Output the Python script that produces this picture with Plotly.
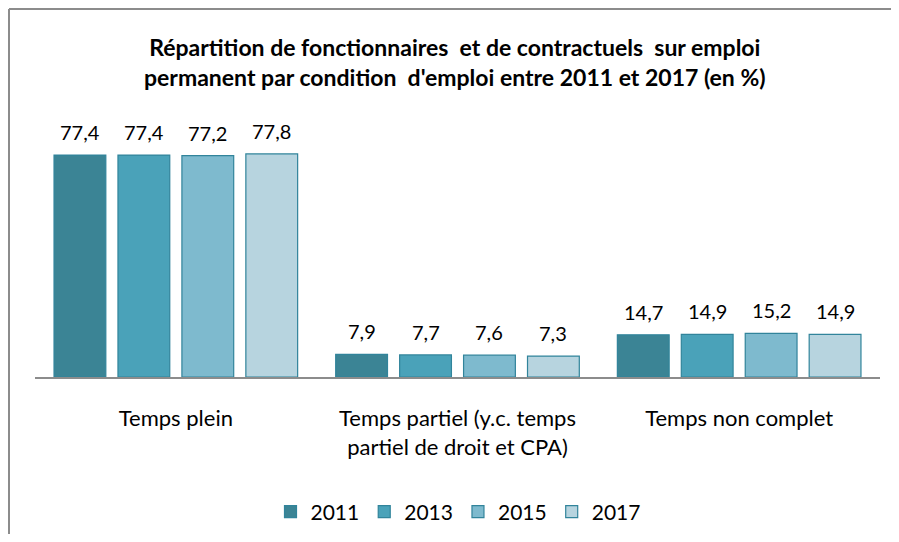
import plotly.graph_objects as go

categories = ["Temps plein", "Temps partiel (y.c. temps<br>partiel de droit et CPA)", "Temps non complet"]
years = ["2011", "2013", "2015", "2017"]
v2011 = [77.4, 7.9, 14.7]
v2013 = [77.4, 7.7, 14.9]
v2015 = [77.2, 7.6, 15.2]
v2017 = [77.8, 7.3, 14.9]
series = [v2011, v2013, v2015, v2017]
colors = ["#3B8495", "#4AA2B9", "#7EBACE", "#B7D4DF"]

FONT = "Lato, 'Open Sans', sans-serif"
OFF = 8  # page body margin
W, H = 899 - 2 * OFF, 542 - 2 * OFF
AXIS_Y = 377 - OFF
L, R = 35 - OFF, W - (880 - OFF)
YMAX = 90.0
PX_PER_UNIT = 223 / 77.8
ph = round(YMAX * PX_PER_UNIT)
B = H - AXIS_Y
T = H - B - ph
pw = W - L - R

BARGAP = 0.092
GROUPGAP = 0.19
band = pw / len(categories)
slot = band * (1 - BARGAP) / len(years)

fig = go.Figure()
for i, (name, vals, col) in enumerate(zip(years, series, colors)):
    fig.add_trace(go.Bar(
        x=categories, y=vals, name=name,
        marker=dict(color=col, line=dict(color="#31849B", width=1.2)),
    ))
    for c, v in zip(categories, vals):
        fig.add_annotation(
            x=c, y=v, xref="x", yref="y",
            text=f"{v:.1f}".replace(".", ","),
            showarrow=False, xanchor="center", yanchor="middle",
            xshift=(i - 1.5) * slot, yshift=23,
            font=dict(family=FONT, size=20, color="#000000"),
        )

fig.update_layout(
    width=W, height=H,
    margin=dict(l=L, r=R, t=T, b=B, autoexpand=False),
    paper_bgcolor="white", plot_bgcolor="white",
    barmode="group", bargap=BARGAP, bargroupgap=GROUPGAP,
    showlegend=True,
    legend=dict(orientation="h", x=(458 - OFF - L) / pw, xanchor="center",
                y=(AXIS_Y - (512 - OFF)) / ph, yanchor="middle",
                font=dict(family=FONT, size=21, color="#000000"), traceorder="normal",
                itemwidth=30),
    xaxis=dict(showline=True, linecolor="#8C8C8C", linewidth=2, ticks="", showgrid=False,
               tickfont=dict(family=FONT, size=22, color="#000000"), ticklabelstandoff=21),
    yaxis=dict(range=[0, YMAX], visible=False, showgrid=False),
    font=dict(family=FONT),
)
fig.add_annotation(
    text="<b>Répartition de fonctionnaires  et de contractuels  sur emploi<br>permanent par condition  d'emploi entre 2011 et 2017 (en %)</b>",
    xref="paper", yref="paper", x=(455 - OFF - L) / pw, y=(AXIS_Y - (61.5 - OFF)) / ph,
    xanchor="center", yanchor="middle", showarrow=False,
    font=dict(family=FONT, size=23, color="#000000"), align="center",
)
bx = (1 - L) / pw
by = (AXIS_Y - 1) / ph
fig.add_shape(type="line", xref="paper", yref="paper", x0=bx, x1=bx, y0=-1.0, y1=by,
              line=dict(color="#8C8C8C", width=2), layer="below")
fig.add_shape(type="line", xref="paper", yref="paper", x0=bx, x1=(W - L) / pw, y0=by, y1=by,
              line=dict(color="#8C8C8C", width=2), layer="below")
fig.write_html("out.html")
